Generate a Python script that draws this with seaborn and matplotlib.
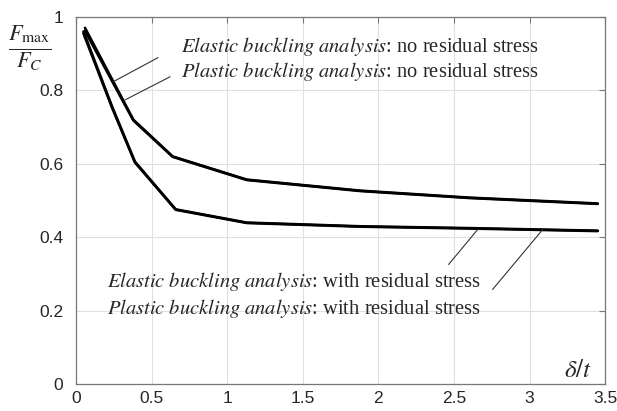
import matplotlib
matplotlib.use("Agg")
import matplotlib.pyplot as plt
import seaborn as sns
import pandas as pd

# ---- data ----
x_no_res = [0.06, 0.38, 0.64, 1.13, 1.88, 2.60, 3.45]
y_elastic_no_res = [0.970, 0.720, 0.620, 0.557, 0.527, 0.508, 0.492]
y_plastic_no_res = [0.962, 0.718, 0.619, 0.556, 0.526, 0.507, 0.491]

x_res = [0.05, 0.24, 0.39, 0.66, 1.13, 1.88, 2.60, 3.45]
y_elastic_res = [0.960, 0.755, 0.606, 0.476, 0.440, 0.430, 0.425, 0.418]
y_plastic_res = [0.955, 0.752, 0.604, 0.475, 0.439, 0.429, 0.424, 0.417]

x_ticks = [0, 0.5, 1, 1.5, 2, 2.5, 3, 3.5]
x_tick_labels = ["0", "0.5", "1", "1.5", "2", "2.5", "3", "3.5"]
y_ticks = [0, 0.2, 0.4, 0.6, 0.8, 1]
y_tick_labels = ["0", "0.2", "0.4", "0.6", "0.8", "1"]

labels = [
    r"$\it{Elastic\ buckling\ analysis}$: no residual stress",
    r"$\it{Plastic\ buckling\ analysis}$: no residual stress",
    r"$\it{Elastic\ buckling\ analysis}$: with residual stress",
    r"$\it{Plastic\ buckling\ analysis}$: with residual stress",
]

frames = []
for name, xs, ys in [("e_no", x_no_res, y_elastic_no_res),
                     ("p_no", x_no_res, y_plastic_no_res),
                     ("e_res", x_res, y_elastic_res),
                     ("p_res", x_res, y_plastic_res)]:
    frames.append(pd.DataFrame({"x": xs, "y": ys, "series": name}))
df = pd.concat(frames, ignore_index=True)

sns.set_style("whitegrid")
plt.rcParams["font.family"] = ["Liberation Sans", "DejaVu Sans"]
plt.rcParams["mathtext.fontset"] = "stix"

fig = plt.figure(figsize=(6.17, 4.11), dpi=100)
ax = fig.add_axes([0.123, 0.065, 0.858, 0.894])

sns.lineplot(data=df, x="x", y="y", hue="series",
             palette=["black"] * 4, linewidth=1.9, legend=False,
             sort=False, ax=ax, estimator=None)

ax.set_xlim(0, 3.5)
ax.set_ylim(0, 1)
ax.set_xticks(x_ticks)
ax.set_xticklabels(x_tick_labels, fontsize=12.5)
ax.set_yticks(y_ticks)
ax.set_yticklabels(y_tick_labels, fontsize=12.5)
ax.set_xlabel("")
ax.set_ylabel("")
ax.grid(True, color="#e0e0e0", linewidth=0.8)
for s in ax.spines.values():
    s.set_visible(True)
    s.set_color("#777777")
    s.set_linewidth(0.9)
ax.tick_params(direction="in", length=4, color="#777777",
               top=True, right=True, labeltop=False, labelright=False)
ax.tick_params(axis="x", pad=5)
ax.tick_params(axis="y", pad=9)

serif = ["Liberation Serif", "DejaVu Serif"]
fs = 14.8
ax.text(0.695, 0.905, labels[0], fontsize=fs, family=serif, va="baseline", ha="left")
ax.text(0.695, 0.837, labels[1], fontsize=fs, family=serif, va="baseline", ha="left")
ax.text(0.205, 0.266, labels[2], fontsize=fs, family=serif, va="baseline", ha="left")
ax.text(0.205, 0.190, labels[3], fontsize=fs, family=serif, va="baseline", ha="left")

lw = 0.8
ax.plot([0.245, 0.543], [0.823, 0.889], color="#333333", lw=lw)
ax.plot([0.325, 0.623], [0.774, 0.837], color="#333333", lw=lw)
ax.plot([2.656, 2.464], [0.421, 0.326], color="#333333", lw=lw)
ax.plot([3.086, 2.755], [0.421, 0.258], color="#333333", lw=lw)

ax.text(3.32, 0.04, r"$\delta/t$", fontsize=18, ha="center", va="center")
fig.text(0.049, 0.883, r"$\frac{F_{\mathrm{max}}}{F_C}$", fontsize=23,
         ha="center", va="center")

fig.savefig("out.png", dpi=100)
